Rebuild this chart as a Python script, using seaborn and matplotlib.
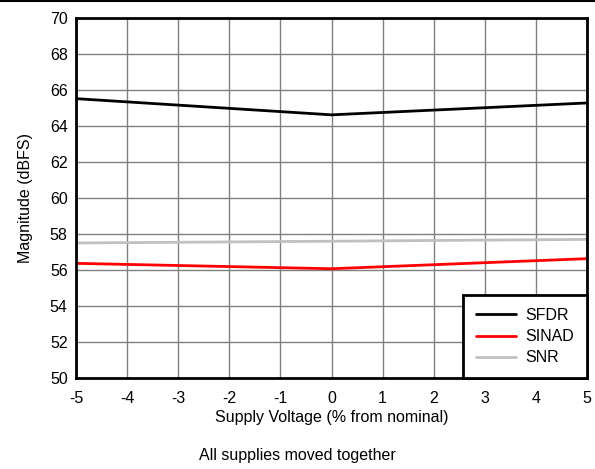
import numpy as np
import pandas as pd
import seaborn as sns
import matplotlib.pyplot as plt

# supply voltage deviation (% from nominal)
supply_pct = [-5, 0, 5]
sfdr = [65.52, 64.62, 65.28]
sinad = [56.37, 56.07, 56.63]
snr = [57.50, 57.60, 57.70]

series_names = ['SFDR', 'SINAD', 'SNR']
series_colors = ['black', '#ff0000', '#c0c0c0']

df = pd.DataFrame({
    'supply': supply_pct * 3,
    'value': sfdr + sinad + snr,
    'metric': np.repeat(series_names, len(supply_pct)),
})

sns.set_style('white')
plt.rcParams['font.family'] = ['Liberation Sans', 'DejaVu Sans']
plt.rcParams['axes.unicode_minus'] = False
plt.rcParams['text.color'] = 'black'
plt.rcParams['axes.labelcolor'] = 'black'
plt.rcParams['xtick.color'] = 'black'
plt.rcParams['ytick.color'] = 'black'

fig = plt.figure(figsize=(5.95, 4.69), dpi=100)
ax = fig.add_axes([76 / 595, 1 - 378 / 469, 511 / 595, 360 / 469])

sns.lineplot(data=df, x='supply', y='value', hue='metric',
             palette=dict(zip(series_names, series_colors)),
             linewidth=2, ax=ax)

ax.set_xlim(-5, 5)
ax.set_ylim(50, 70)
ax.set_xticks(range(-5, 6))
ax.set_yticks(range(50, 71, 2))
ax.grid(True, color='#808080', linewidth=1)
ax.set_axisbelow(True)
for s in ax.spines.values():
    s.set_color('black')
    s.set_linewidth(2)
ax.tick_params(axis='both', labelsize=11.5, length=0)
ax.tick_params(axis='x', pad=9)
ax.tick_params(axis='y', pad=6)
ax.set_xlabel('Supply Voltage (% from nominal)', fontsize=11.5, labelpad=3)
ax.set_ylabel('Magnitude (dBFS)', fontsize=11.5, labelpad=12)

leg = ax.legend(loc='lower right', fontsize=11.5, fancybox=False, framealpha=1,
                borderaxespad=0, handlelength=2.5, borderpad=0.8, labelspacing=0.38,
                handletextpad=0.6)
leg.get_frame().set_edgecolor('black')
leg.get_frame().set_linewidth(2)

fig.text(0.5, 1 - 455 / 469, 'All supplies moved together', ha='center', va='center', fontsize=11.5)
fig.add_artist(plt.Line2D([0, 1], [1 - 1.5 / 469, 1 - 1.5 / 469], color='black', linewidth=1.5))

fig.savefig('out.png', dpi=100)
